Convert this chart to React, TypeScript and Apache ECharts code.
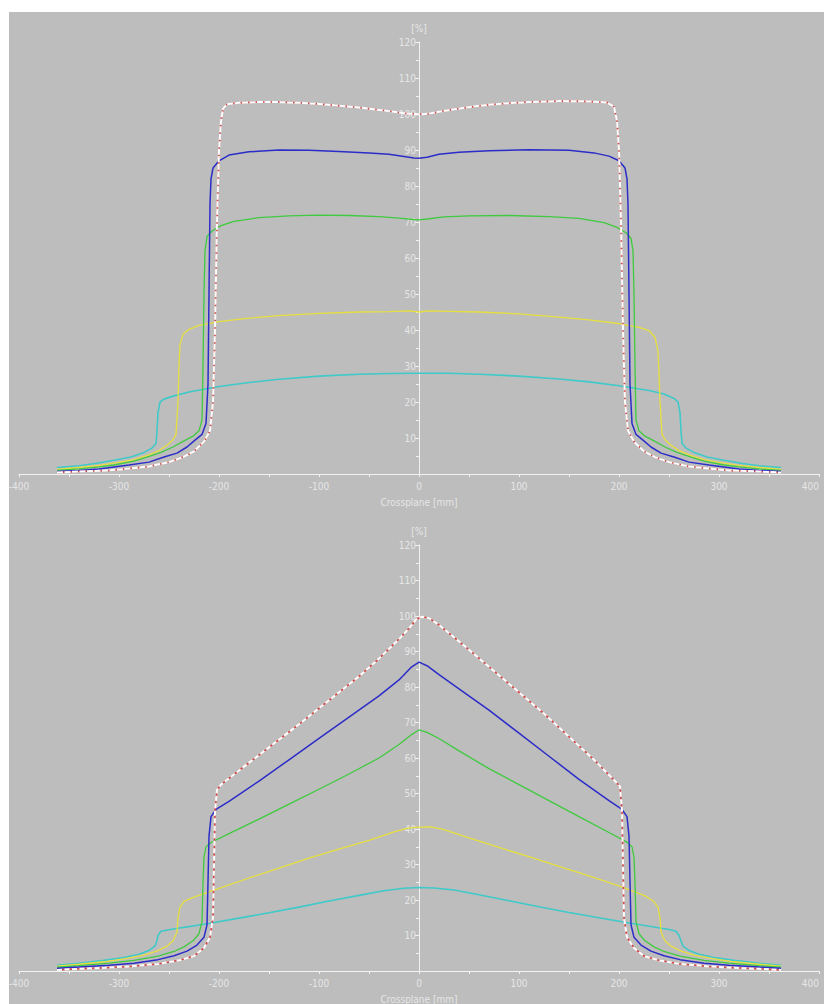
import React, { useEffect, useRef } from "react";
import * as echarts from "echarts";

type Pt = [number, number];

// x tick labels (mm) and y tick labels (%)
const xTicks = [-400, -300, -200, -100, 0, 100, 200, 300, 400];
const yTicks = [10, 20, 30, 40, 50, 60, 70, 80, 90, 100, 110, 120];

// ---- Top chart (open field) ----
const topRedWhite: Pt[] = [
  [-362, 0.4], [-340, 0.7], [-310, 1.0], [-290, 1.5], [-270, 2.1], [-250, 3.3], [-236, 4.7], [-225, 6.3],
  [-215, 9.0], [-209, 12], [-206, 20], [-204, 40], [-202, 70], [-200, 90], [-198, 98], [-196, 101.5],
  [-192, 102.7], [-180, 103.1], [-160, 103.3], [-140, 103.3], [-120, 103.1], [-100, 102.8], [-80, 102.3],
  [-60, 101.8], [-45, 101.3], [-30, 100.8], [-15, 100.2], [0, 99.9], [10, 100.1], [20, 100.6], [35, 101.3],
  [50, 101.9], [70, 102.6], [90, 103.0], [110, 103.3], [140, 103.6], [170, 103.5], [188, 103.2], [195, 102],
  [198, 98], [200, 90], [202, 70], [204, 40], [206, 20], [209, 12], [215, 9.0], [225, 6.3], [236, 4.7],
  [250, 3.3], [270, 2.1], [290, 1.5], [310, 1.0], [340, 0.7], [362, 0.4],
];
const topBlue: Pt[] = [
  [-362, 0.7], [-340, 1.0], [-320, 1.4], [-290, 2.5], [-270, 3.3], [-255, 4.7], [-242, 5.8], [-232, 7.5],
  [-224, 9.4], [-217, 11], [-213, 14], [-211, 25], [-210, 50], [-209, 75], [-208, 82], [-206, 85],
  [-200, 87], [-190, 88.6], [-170, 89.5], [-140, 90], [-110, 89.9], [-80, 89.6], [-50, 89.2], [-30, 88.8],
  [-15, 88.2], [-5, 87.8], [0, 87.7], [8, 88], [20, 88.8], [40, 89.4], [70, 89.8], [110, 90.1], [150, 89.9],
  [175, 89.2], [190, 88.3], [200, 87], [206, 85], [208, 82], [209, 75], [210, 50], [211, 25], [213, 14],
  [217, 11], [224, 9.4], [232, 7.5], [242, 5.8], [255, 4.7], [270, 3.3], [290, 2.5], [320, 1.4], [340, 1.0],
  [362, 0.7],
];
const topGreen: Pt[] = [
  [-362, 1.0], [-340, 1.4], [-320, 2.0], [-305, 2.5], [-285, 3.6], [-272, 4.7], [-258, 6.0], [-246, 7.5],
  [-235, 9.2], [-226, 10.5], [-220, 12], [-217, 15], [-216, 30], [-215, 50], [-214, 62], [-212, 66],
  [-207, 67.5], [-198, 69], [-185, 70.2], [-160, 71.2], [-130, 71.7], [-100, 71.9], [-70, 71.8], [-40, 71.5],
  [-20, 71.1], [-5, 70.7], [0, 70.6], [10, 70.9], [25, 71.4], [50, 71.7], [90, 71.8], [130, 71.5], [160, 71],
  [185, 69.8], [198, 68.5], [207, 67], [212, 65.5], [214, 62], [215, 50], [216, 30], [217, 15], [220, 12],
  [226, 10.5], [235, 9.2], [246, 7.5], [258, 6.0], [272, 4.7], [285, 3.6], [305, 2.5], [320, 2.0],
  [340, 1.4], [362, 1.0],
];
const topYellow: Pt[] = [
  [-362, 1.3], [-340, 1.8], [-320, 2.4], [-300, 3.2], [-285, 4.0], [-270, 5.3], [-260, 6.5], [-252, 8.0],
  [-246, 9.5], [-243, 11], [-241, 20], [-240, 30], [-239, 36], [-236, 38.8], [-230, 40.2], [-220, 41.3],
  [-200, 42.3], [-170, 43.3], [-140, 44], [-100, 44.6], [-60, 45], [-30, 45.1], [-10, 45.3], [0, 45],
  [10, 45.3], [30, 45.2], [60, 45], [100, 44.5], [140, 43.6], [170, 42.8], [200, 41.8], [220, 40.7],
  [230, 39.8], [236, 38], [239, 34], [240, 28], [241, 20], [243, 11], [246, 9.5], [252, 8.0], [260, 6.5],
  [270, 5.3], [285, 4.0], [300, 3.2], [320, 2.4], [340, 1.8], [362, 1.3],
];
const topCyan: Pt[] = [
  [-362, 1.8], [-340, 2.3], [-322, 3.0], [-305, 3.8], [-288, 4.7], [-275, 6.0], [-267, 7.2], [-263, 8.5],
  [-262, 12], [-261, 17], [-259, 20], [-255, 20.8], [-245, 21.7], [-230, 22.8], [-200, 24.3], [-170, 25.4],
  [-140, 26.3], [-100, 27.2], [-60, 27.7], [-30, 27.9], [0, 28], [30, 28], [60, 27.7], [100, 27.2],
  [140, 26.4], [170, 25.6], [200, 24.5], [230, 23.2], [245, 22.2], [255, 21], [259, 20], [261, 17],
  [262, 12], [263, 8.5], [267, 7.2], [275, 6.0], [288, 4.7], [305, 3.8], [322, 3.0], [340, 2.3], [362, 1.8],
];

// ---- Bottom chart (wedge field) ----
const botRedWhite: Pt[] = [
  [-362, 0.3], [-340, 0.6], [-314, 0.9], [-290, 1.3], [-261, 2.0], [-240, 3.0], [-225, 4.2], [-215, 6.5],
  [-209, 9.5], [-206, 15], [-205, 30], [-204, 45], [-202, 51], [-198, 52.5], [-180, 56.5], [-150, 63],
  [-120, 69.5], [-100, 74], [-80, 78.5], [-60, 83], [-40, 88], [-20, 93.5], [-10, 96.5], [-3, 99],
  [3, 99.8], [10, 99.4], [20, 97.5], [35, 94], [50, 90.5], [75, 84.5], [100, 78.5], [125, 72.5],
  [150, 66], [175, 59.5], [195, 53.8], [201, 52], [203, 45], [204, 30], [205, 15], [208, 9.5], [215, 6.5],
  [225, 4.2], [240, 3.0], [261, 2.0], [290, 1.3], [314, 0.9], [340, 0.6], [362, 0.3],
];
const botBlue: Pt[] = [
  [-362, 0.8], [-340, 1.1], [-310, 1.6], [-285, 2.2], [-261, 3.2], [-245, 4.3], [-232, 5.6], [-222, 7.3],
  [-215, 9.5], [-212, 13], [-211, 25], [-210, 38], [-208, 43.5], [-203, 45.5], [-190, 47.8], [-160, 53.5],
  [-130, 59.5], [-100, 65.5], [-70, 71.5], [-40, 77.5], [-20, 82], [-8, 85.5], [0, 87], [8, 86], [20, 83.5],
  [40, 79.5], [70, 73.5], [100, 67], [130, 60.5], [160, 54], [190, 48], [203, 45.5], [208, 43.5], [210, 38],
  [211, 25], [212, 13], [215, 9.5], [222, 7.3], [232, 5.6], [245, 4.3], [261, 3.2], [285, 2.2], [310, 1.6],
  [340, 1.1], [362, 0.8],
];
const botGreen: Pt[] = [
  [-362, 1.1], [-340, 1.5], [-310, 2.2], [-285, 3.0], [-261, 4.2], [-245, 5.5], [-235, 6.8], [-226, 8.5],
  [-220, 10.5], [-217, 14], [-216, 25], [-215, 32], [-213, 35], [-208, 36.2], [-190, 38.7], [-160, 42.8],
  [-130, 47], [-100, 51.2], [-70, 55.5], [-40, 60], [-20, 63.8], [-8, 66.5], [0, 67.9], [8, 67.2],
  [20, 65.5], [40, 62], [70, 57], [100, 52.5], [130, 48], [160, 43.5], [190, 39], [208, 36.3], [213, 35],
  [215, 32], [216, 25], [217, 14], [220, 10.5], [226, 8.5], [235, 6.8], [245, 5.5], [261, 4.2], [285, 3.0],
  [310, 2.2], [340, 1.5], [362, 1.1],
];
const botYellow: Pt[] = [
  [-362, 1.4], [-340, 1.9], [-315, 2.6], [-295, 3.4], [-275, 4.5], [-262, 5.6], [-252, 7.0], [-246, 8.5],
  [-242, 11], [-241, 15], [-239, 18], [-235, 19.6], [-225, 20.8], [-200, 23.3], [-170, 26.2], [-140, 29],
  [-110, 31.8], [-80, 34.3], [-50, 36.8], [-25, 39.2], [-10, 40.3], [0, 40.5], [12, 40.6], [25, 39.8],
  [50, 37.5], [80, 34.8], [110, 32.2], [140, 29.5], [170, 26.8], [200, 24], [225, 21.3], [234, 19.8],
  [239, 18], [241, 15], [242, 11], [246, 8.5], [252, 7.0], [262, 5.6], [275, 4.5], [295, 3.4], [315, 2.6],
  [340, 1.9], [362, 1.4],
];
const botCyan: Pt[] = [
  [-362, 1.6], [-340, 2.2], [-315, 3.0], [-295, 3.8], [-280, 4.7], [-270, 5.8], [-264, 7.0], [-262, 8.5],
  [-261, 10], [-258, 11.2], [-250, 11.6], [-235, 12.3], [-210, 13.4], [-180, 14.9], [-150, 16.4],
  [-120, 18], [-90, 19.7], [-60, 21.3], [-35, 22.6], [-15, 23.3], [0, 23.5], [15, 23.4], [35, 22.8],
  [60, 21.5], [90, 19.8], [120, 18.1], [150, 16.5], [180, 15], [210, 13.5], [235, 12.4], [250, 11.7],
  [257, 11.2], [260, 10], [262, 8.5], [264, 7.0], [270, 5.8], [280, 4.7], [295, 3.8], [315, 3.0],
  [340, 2.2], [362, 1.6],
];

const BG = "#bdbdbd";
const AXIS = "#f2f2f2";
const TEXT = "#e6e6e6";
const FONT = "'Liberation Sans Narrow', 'DejaVu Sans Condensed', 'Liberation Sans', sans-serif";

const COLORS = {
  cyan: "#3fc9c9",
  yellow: "#e6df3e",
  green: "#3fca3f",
  blue: "#2c2cc8",
  red: "#d84646",
  white: "#ffffff",
};

const GRID_W = 800;

function makeX(gridIndex: number) {
  return {
    type: "value",
    gridIndex,
    min: xTicks[0],
    max: xTicks[xTicks.length - 1],
    interval: 100,
    name: "Crossplane [mm]",
    nameLocation: "middle",
    nameGap: 23,
    nameTextStyle: { color: TEXT, fontSize: 10, fontFamily: FONT },
    axisLine: { onZero: false, lineStyle: { color: AXIS, width: 1 } },
    axisTick: { show: true, length: 3, lineStyle: { color: AXIS } },
    minorTick: { show: true, splitNumber: 2, length: 3, lineStyle: { color: AXIS } },
    axisLabel: {
      color: TEXT,
      fontSize: 10,
      fontFamily: FONT,
      margin: 7,
      showMinLabel: true,
      showMaxLabel: true,
      alignMaxLabel: "right",
    },
    splitLine: { show: false },
  };
}

function makeY(gridIndex: number) {
  return {
    type: "value",
    gridIndex,
    position: "left",
    offset: -GRID_W / 2,
    min: 0,
    max: yTicks[yTicks.length - 1],
    interval: 10,
    name: "[%]",
    nameLocation: "end",
    nameGap: 9,
    nameTextStyle: { color: TEXT, fontSize: 10, fontFamily: FONT },
    axisLine: { onZero: false, lineStyle: { color: AXIS, width: 1 } },
    axisTick: { show: true, length: 4, lineStyle: { color: AXIS } },
    minorTick: { show: true, splitNumber: 2, length: 3, lineStyle: { color: AXIS } },
    axisLabel: {
      color: TEXT,
      fontSize: 10,
      fontFamily: FONT,
      margin: 3,
      formatter: (v: number) => (yTicks.includes(v) ? String(v) : ""),
    },
    splitLine: { show: false },
  };
}

function line(name: string, data: Pt[], color: string, idx: number, width = 1.3, type: any = "solid", z = 2) {
  return {
    name,
    type: "line",
    xAxisIndex: idx,
    yAxisIndex: idx,
    data,
    showSymbol: false,
    symbol: "none",
    smooth: false,
    z,
    lineStyle: { color, width, type },
  };
}

export default function App() {
  const ref = useRef<HTMLDivElement>(null);

  useEffect(() => {
    if (!ref.current) return;
    const chart = echarts.init(ref.current, undefined, { renderer: "svg" });
    chart.setOption({
      animation: false,
      backgroundColor: BG,
      grid: [
        { left: 10, width: GRID_W, top: 30, height: 432, containLabel: false, outerBoundsMode: "none" },
        { left: 10, width: GRID_W, top: 533, height: 426, containLabel: false, outerBoundsMode: "none" },
      ],
      xAxis: [makeX(0), makeX(1)],
      yAxis: [makeY(0), makeY(1)],
      series: [
        line("cyan-top", topCyan, COLORS.cyan, 0, 1.6),
        line("yellow-top", topYellow, COLORS.yellow, 0, 1.3),
        line("green-top", topGreen, COLORS.green, 0, 1.3),
        line("blue-top", topBlue, COLORS.blue, 0, 1.5),
        line("red-top", topRedWhite, COLORS.red, 0, 1.5),
        line("white-top", topRedWhite, COLORS.white, 0, 2, [6, 1.5], 3),
        line("cyan-bot", botCyan, COLORS.cyan, 1, 1.6),
        line("yellow-bot", botYellow, COLORS.yellow, 1, 1.3),
        line("green-bot", botGreen, COLORS.green, 1, 1.3),
        line("blue-bot", botBlue, COLORS.blue, 1, 1.5),
        line("red-bot", botRedWhite, COLORS.red, 1, 1.5),
        line("white-bot", botRedWhite, COLORS.white, 1, 2, [5, 2.5], 3),
      ],
    });
    return () => chart.dispose();
  }, []);

  return (
    <div
      style={{
        position: "absolute",
        left: 9,
        top: 12,
        width: 815,
        height: 992,
        background: BG,
      }}
    >
      <div ref={ref} style={{ width: 815, height: 992 }} />
    </div>
  );
}
